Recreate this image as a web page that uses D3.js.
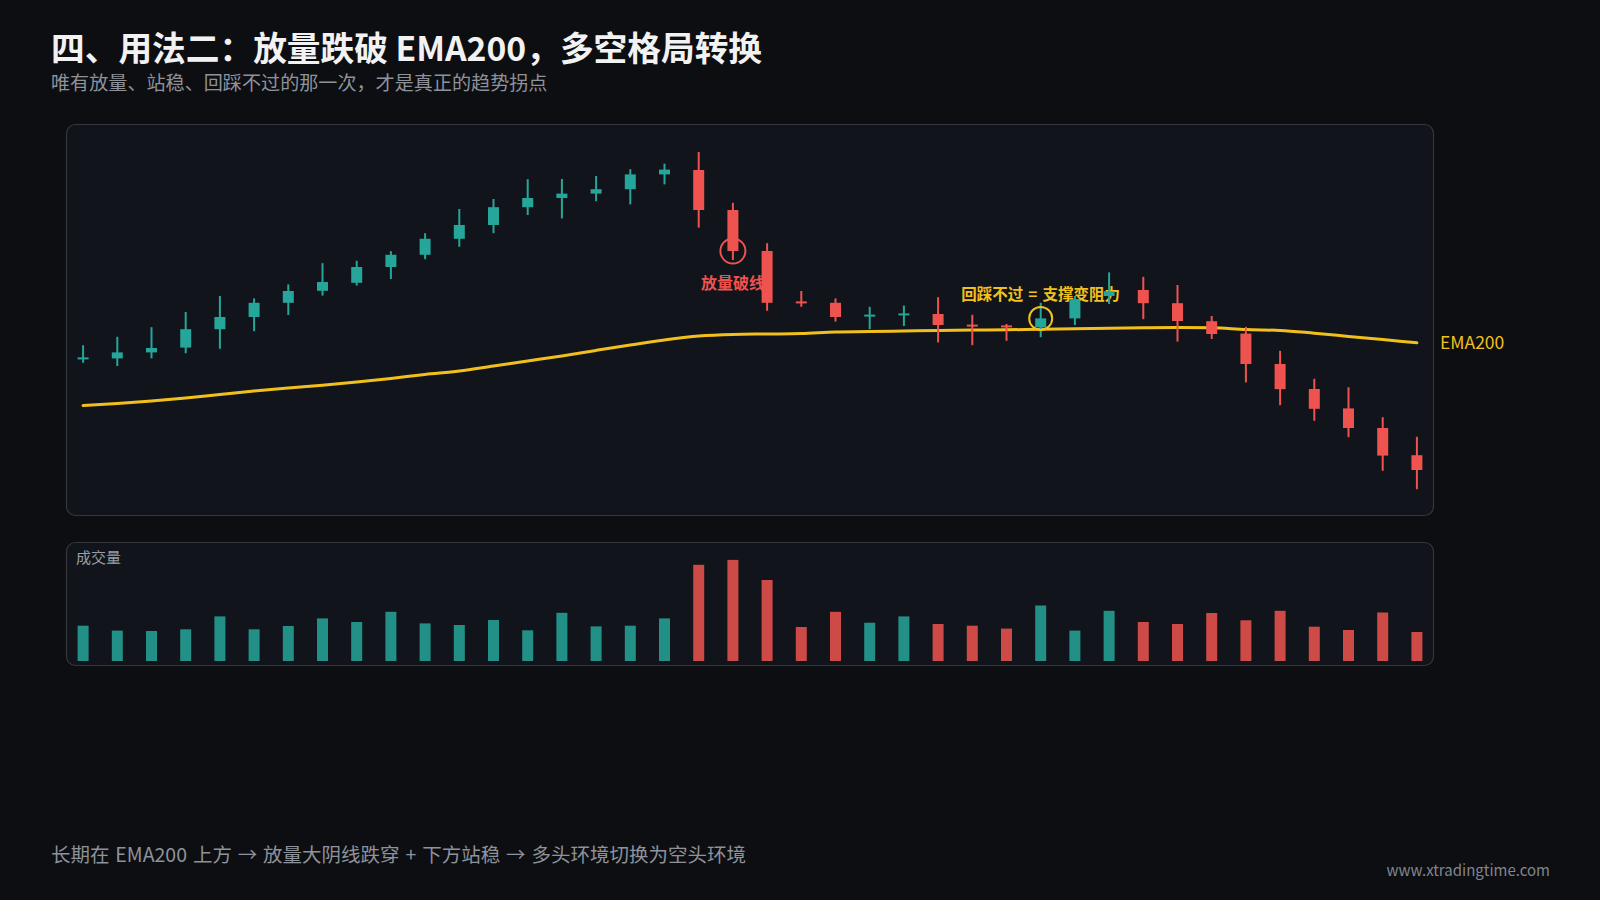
<!DOCTYPE html>
<html>
<head>
<meta charset="utf-8">
<script src="https://cdn.jsdelivr.net/npm/d3@7"></script>
<style>
  html, body { margin: 0; padding: 0; background: #0d0e12; }
  svg { display: block; }
  text { font-family: "Noto Sans CJK SC", "Noto Sans", sans-serif; }
</style>
</head>
<body>
<svg id="chart" width="1600" height="900"></svg>
<script>
// ---------- DATA ----------
const opens  = [135.0,135.4,136.9,138.1,142.7,145.75,149.3,152.3,154.3,158.25,161.3,165.3,168.75,173.2,175.5,176.6,177.7,181.4,
                182.5,172.5,162.25,149.4,149.3,145.9,146.1,146.5,143.6,143.4,143.2,145.4,151.0,152.5,149.2,144.7,141.6,134.0,127.75,122.9,118.0,111.2];
const highs  = [138.7,140.8,143.2,147.0,151.0,150.4,153.9,159.2,159.8,162.2,166.7,172.75,175.25,180.2,180.25,181.0,182.7,184.1,
                187.0,174.3,164.2,152.25,150.4,148.3,148.6,150.7,146.3,144.0,149.3,151.0,156.9,155.8,153.75,146.0,143.3,137.3,130.3,128.2,120.7,115.8];
const lows   = [134.3,133.5,135.4,136.7,137.8,142.2,146.25,151.1,153.6,155.25,160.2,163.3,166.7,171.25,170.4,174.7,173.9,178.9,
                168.1,160.0,147.3,148.3,144.6,142.7,143.5,139.4,138.7,139.8,140.7,143.75,149.0,145.2,139.6,140.25,129.4,123.7,119.8,115.7,107.3,102.7];
const closes = [135.4,136.9,138.0,142.7,145.75,149.3,152.25,154.5,158.25,161.3,165.3,168.75,173.2,175.5,176.6,177.7,181.4,182.6,
                172.5,162.25,149.3,149.1,145.75,146.1,146.4,143.75,143.4,143.1,145.4,150.2,152.2,149.2,144.75,141.5,134.0,127.7,122.8,118.0,111.1,107.5];
const ema200 = [123.6,124.1,124.75,125.5,126.4,127.25,128.0,128.7,129.5,130.4,131.4,132.25,133.5,134.75,136.0,137.4,138.75,140.0,
                141.0,141.4,141.5,141.6,142.0,142.1,142.25,142.4,142.5,142.55,142.7,142.8,142.95,143.05,143.1,143.05,142.6,142.4,141.7,140.9,140.1,139.3];
const volumes = [35.3,30.4,30,31.7,44.6,31.7,35,42.6,39,49.2,37.6,36,41,30.7,48.2,34.6,35.3,42.6,
                 96.2,101.1,81,34,49.2,38.3,44.6,37,35.3,32.4,55.5,30.4,50.2,39,37,48,40.7,50.2,34.3,31,48.5,29];
const annotations = [
  { index: 19, text: "放量破线", kind: "break" },
  { index: 28, text: "回踩不过 = 支撑变阻力", kind: "retest" }
];
const titleText = "四、用法二：放量跌破 EMA200，多空格局转换";
const subtitleText = "唯有放量、站稳、回踩不过的那一次，才是真正的趋势拐点";
const footerText = "长期在 EMA200 上方 → 放量大阴线跌穿 + 下方站稳 → 多头环境切换为空头环境";
const watermark = "www.xtradingtime.com";
const emaLabel = "EMA200";
const volumeLabel = "成交量";

// ---------- STYLE ----------
const UP = "#26a69a", DOWN = "#ef5350", EMA = "#f2c01c";
const svg = d3.select("#chart");
svg.append("rect").attr("width", 1600).attr("height", 900).attr("fill", "#0d0e12");

const candles = opens.map((o, i) => ({ i, o, h: highs[i], l: lows[i], c: closes[i], v: volumes[i], e: ema200[i] }));

const priceTop = 124, priceBottom = 516, volTop = 542, volBottom = 666, left = 66, right = 1434;

const x = d3.scalePoint().domain(d3.range(candles.length)).range([left, right]).padding(0.5);
const y = d3.scaleLinear().domain([96, 194]).range([priceBottom, priceTop]);
const yv = d3.scaleLinear().domain([0, 120]).range([661, 541]);

// panels
svg.append("rect").attr("x", left + 0.5).attr("y", priceTop + 0.5).attr("width", right - left - 1).attr("height", priceBottom - priceTop - 1)
  .attr("rx", 9).attr("fill", "#11141a").attr("stroke", "#34373e").attr("stroke-width", 1.2);
svg.append("rect").attr("x", left + 0.5).attr("y", volTop + 0.5).attr("width", right - left - 1).attr("height", volBottom - volTop - 1)
  .attr("rx", 9).attr("fill", "#11141a").attr("stroke", "#34373e").attr("stroke-width", 1.2);

// titles
svg.append("text").attr("x", 51).attr("y", 61).attr("fill", "#f2f2f2").attr("font-size", 33.7).attr("font-weight", 700).text(titleText);
svg.append("text").attr("x", 51).attr("y", 90).attr("fill", "#8e939b").attr("font-size", 19.1).text(subtitleText);

// EMA line
const line = d3.line().x(d => x(d.i)).y(d => y(d.e)).curve(d3.curveMonotoneX);
svg.append("path").datum(candles).attr("d", line).attr("fill", "none").attr("stroke", EMA).attr("stroke-width", 3).attr("stroke-linecap", "round");
svg.append("text").attr("x", 1440).attr("y", 349).attr("fill", EMA).attr("font-size", 17.5).attr("font-weight", 400).text(emaLabel);

// annotation texts (below candles)
annotations.forEach(a => {
  if (a.kind === "break") {
    svg.append("text").attr("x", x(a.index)).attr("y", 289).attr("text-anchor", "middle")
      .attr("fill", DOWN).attr("font-size", 16).attr("font-weight", 600).text(a.text);
  } else {
    svg.append("text").attr("x", x(a.index)).attr("y", 300).attr("text-anchor", "middle")
      .attr("fill", EMA).attr("font-size", 15.5).attr("font-weight", 600).attr("word-spacing", 1.5).text(a.text);
  }
});

// candles
const bodyW = 11;
const cg = svg.append("g").selectAll("g.c").data(candles).join("g").attr("class", "c");
cg.append("line")
  .attr("x1", d => x(d.i)).attr("x2", d => x(d.i))
  .attr("y1", d => y(d.h)).attr("y2", d => y(d.l))
  .attr("stroke", d => d.c >= d.o ? UP : DOWN).attr("stroke-width", 2);
cg.append("rect")
  .attr("x", d => x(d.i) - bodyW / 2)
  .attr("width", bodyW)
  .attr("y", d => Math.min(y(d.o), y(d.c)) - (Math.abs(y(d.o) - y(d.c)) < 2 ? 1 : 0))
  .attr("height", d => Math.max(2, Math.abs(y(d.o) - y(d.c))))
  .attr("fill", d => d.c >= d.o ? UP : DOWN);

// circles
annotations.forEach(a => {
  const d = candles[a.index];
  svg.append("circle").attr("cx", x(a.index)).attr("cy", y(d.c))
    .attr("r", a.kind === "break" ? 12.5 : 11.5)
    .attr("fill", "none").attr("stroke", a.kind === "break" ? DOWN : EMA).attr("stroke-width", 2);
});

// volume
svg.append("text").attr("x", 76).attr("y", 563).attr("fill", "#9a9fa7").attr("font-size", 15).text(volumeLabel);
svg.append("g").selectAll("rect").data(candles).join("rect")
  .attr("x", d => x(d.i) - 5.5).attr("width", 11)
  .attr("y", d => yv(d.v)).attr("height", d => yv(0) - yv(d.v))
  .attr("fill", d => d.c >= d.o ? UP : DOWN).attr("fill-opacity", 0.85);

// footer
svg.append("text").attr("x", 51).attr("y", 862).attr("fill", "#8e939b").attr("font-size", 19.5).attr("word-spacing", 1.5).text(footerText);
svg.append("text").attr("x", 1550).attr("y", 876).attr("text-anchor", "end").attr("fill", "#80858d").attr("font-size", 15).text(watermark);
</script>
</body>
</html>
